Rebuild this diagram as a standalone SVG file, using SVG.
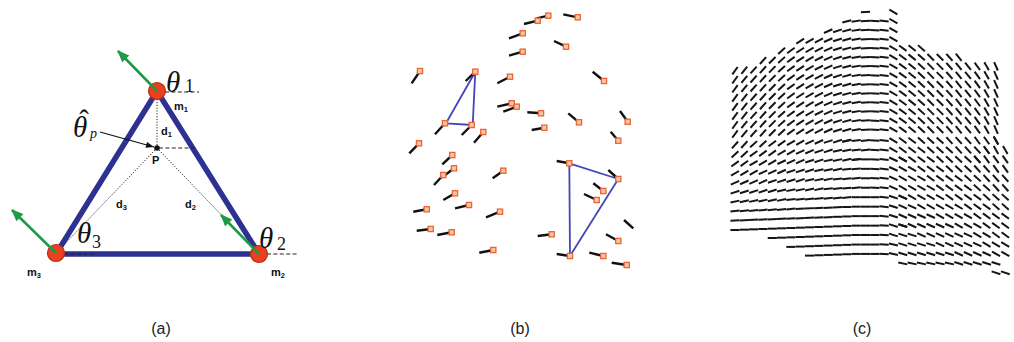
<svg xmlns="http://www.w3.org/2000/svg" width="1014" height="342" viewBox="0 0 1014 342">
<style>
.lbl{font-family:"Liberation Sans",Arial,sans-serif;font-weight:bold;font-size:11px;fill:#111}
.th{font-family:"Liberation Serif","Times New Roman",serif;font-style:italic;font-size:29px;fill:#111}
.sub{font-family:"Liberation Serif","Times New Roman",serif;font-style:normal;font-size:18px;fill:#111}
.cap{font-family:"Liberation Sans",Arial,sans-serif;font-size:16px;fill:#222;text-anchor:middle}
.edge{fill:none;stroke:#2d3192;stroke-width:5.5;stroke-linejoin:round}
.dot{fill:none;stroke:#222;stroke-width:1;stroke-dasharray:1.2 1.6}
.dash{fill:none;stroke:#222;stroke-width:1.2;stroke-dasharray:4 2.4}
.mass{fill:#e8411f;stroke:#b5301a;stroke-width:1.2}
.vel{fill:none;stroke:#1e9a46;stroke-width:2.6;marker-end:url(#ga)}
.pb path{fill:none;stroke:#111;stroke-width:2.4;marker-start:url(#sq)}
.pb path.ns{marker-start:none}
.tri{fill:none;stroke:#4347b8;stroke-width:1.8;stroke-linejoin:round}
marker{overflow:visible}
.d{fill:none;stroke:#151515;stroke-width:2}
#pc path{fill:none;stroke:none}
.n54{marker:url(#n54)}.n51{marker:url(#n51)}.n48{marker:url(#n48)}.n45{marker:url(#n45)}
.n42{marker:url(#n42)}.n36{marker:url(#n36)}.n33{marker:url(#n33)}.n30{marker:url(#n30)}
.n27{marker:url(#n27)}.n24{marker:url(#n24)}.n18{marker:url(#n18)}.n15{marker:url(#n15)}
.n12{marker:url(#n12)}.n9{marker:url(#n9)}.n6{marker:url(#n6)}.n3{marker:url(#n3)}
.z0{marker:url(#z0)}.p3{marker:url(#p3)}.p6{marker:url(#p6)}.p12{marker:url(#p12)}
.p18{marker:url(#p18)}.p24{marker:url(#p24)}.p30{marker:url(#p30)}.p36{marker:url(#p36)}
.p39{marker:url(#p39)}.p42{marker:url(#p42)}.p45{marker:url(#p45)}.p48{marker:url(#p48)}
.p51{marker:url(#p51)}.p54{marker:url(#p54)}.p60{marker:url(#p60)}.p66{marker:url(#p66)}
</style>
<defs>
<marker id="ga" markerUnits="userSpaceOnUse" viewBox="0 0 12 10" markerWidth="12" markerHeight="10" refX="11" refY="5" orient="auto"><path d="M0 0L12 5 0 10z" fill="#1e9a46"/></marker>
<marker id="ka" markerUnits="userSpaceOnUse" viewBox="0 0 8 6" markerWidth="8" markerHeight="6" refX="8" refY="3" orient="auto"><path d="M0 0L8 3 0 6z" fill="#111"/></marker>
<marker id="sq" markerUnits="userSpaceOnUse"><rect x="-2.6" y="-2.6" width="5.2" height="5.2" fill="#fbc6a4" stroke="#ec6335" stroke-width="1.3"/></marker>
<marker id="n54" orient="-54"><path class="d" d="M-4.6 0H4.6"/></marker>
<marker id="n51" orient="-51"><path class="d" d="M-4.6 0H4.6"/></marker>
<marker id="n48" orient="-48"><path class="d" d="M-4.6 0H4.6"/></marker>
<marker id="n45" orient="-45"><path class="d" d="M-4.6 0H4.6"/></marker>
<marker id="n42" orient="-42"><path class="d" d="M-4.6 0H4.6"/></marker>
<marker id="n36" orient="-36"><path class="d" d="M-4.6 0H4.6"/></marker>
<marker id="n33" orient="-33"><path class="d" d="M-4.6 0H4.6"/></marker>
<marker id="n30" orient="-30"><path class="d" d="M-4.6 0H4.6"/></marker>
<marker id="n27" orient="-27"><path class="d" d="M-4.6 0H4.6"/></marker>
<marker id="n24" orient="-24"><path class="d" d="M-4.6 0H4.6"/></marker>
<marker id="n18" orient="-18"><path class="d" d="M-4.6 0H4.6"/></marker>
<marker id="n15" orient="-15"><path class="d" d="M-4.6 0H4.6"/></marker>
<marker id="n12" orient="-12"><path class="d" d="M-4.6 0H4.6"/></marker>
<marker id="n9" orient="-9"><path class="d" d="M-4.6 0H4.6"/></marker>
<marker id="n6" orient="-6"><path class="d" d="M-4.6 0H4.6"/></marker>
<marker id="n3" orient="-3"><path class="d" d="M-4.6 0H4.6"/></marker>
<marker id="z0" orient="0"><path class="d" d="M-4.6 0H4.6"/></marker>
<marker id="p3" orient="3"><path class="d" d="M-4.6 0H4.6"/></marker>
<marker id="p6" orient="6"><path class="d" d="M-4.6 0H4.6"/></marker>
<marker id="p12" orient="12"><path class="d" d="M-4.6 0H4.6"/></marker>
<marker id="p18" orient="18"><path class="d" d="M-4.6 0H4.6"/></marker>
<marker id="p24" orient="24"><path class="d" d="M-4.6 0H4.6"/></marker>
<marker id="p30" orient="30"><path class="d" d="M-4.6 0H4.6"/></marker>
<marker id="p36" orient="36"><path class="d" d="M-4.6 0H4.6"/></marker>
<marker id="p39" orient="39"><path class="d" d="M-4.6 0H4.6"/></marker>
<marker id="p42" orient="42"><path class="d" d="M-4.6 0H4.6"/></marker>
<marker id="p45" orient="45"><path class="d" d="M-4.6 0H4.6"/></marker>
<marker id="p48" orient="48"><path class="d" d="M-4.6 0H4.6"/></marker>
<marker id="p51" orient="51"><path class="d" d="M-4.6 0H4.6"/></marker>
<marker id="p54" orient="54"><path class="d" d="M-4.6 0H4.6"/></marker>
<marker id="p60" orient="60"><path class="d" d="M-4.6 0H4.6"/></marker>
<marker id="p66" orient="66"><path class="d" d="M-4.6 0H4.6"/></marker>
</defs>
<rect width="1014" height="342" fill="#fff"/>

<!-- Panel (a) -->
<g id="panel-a">
<g id="connectors">
<polygon class="edge" points="157,91 259,254 56,254"/>
<path class="dot" d="M157 148V92"/>
<path class="dot" d="M157 148L259 254"/>
<path class="dot" d="M157 148L56 253"/>
<path class="dash" d="M165 92H199"/>
<path class="dash" d="M159 148H197"/>
<path class="dash" d="M64 254H96"/>
<path class="dash" d="M267 254H298"/>
<path d="M100 132L154 147" fill="none" stroke="#111" stroke-width="1.2" marker-end="url(#ka)"/>
</g>
<g id="m1">
<circle class="mass" cx="157" cy="91" r="8.5"/>
<path class="vel" d="M157 91L118 51"/>
<text class="th" x="166" y="92">θ</text><text class="sub" x="185" y="92">1</text>
<text class="lbl" x="174" y="110">m<tspan font-size="7.5" dy="1.5">1</tspan></text>
</g>
<g id="m2">
<circle class="mass" cx="259" cy="254" r="8.5"/>
<path class="vel" d="M259 254L221 215"/>
<text class="th" x="259" y="248">θ</text><text class="sub" x="277" y="250">2</text>
<text class="lbl" x="271" y="276">m<tspan font-size="7.5" dy="1.5">2</tspan></text>
</g>
<g id="m3">
<circle class="mass" cx="56" cy="253" r="8.5"/>
<path class="vel" d="M56 253L12 210"/>
<text class="th" x="77" y="243">θ</text><text class="sub" x="92" y="248">3</text>
<text class="lbl" x="27" y="276">m<tspan font-size="7.5" dy="1.5">3</tspan></text>
</g>
<g id="P">
<circle cx="157" cy="148" r="2.8" fill="#111"/>
<text class="lbl" x="152" y="164" font-size="13">P</text>
<text class="lbl" x="161" y="135">d<tspan font-size="7.5" dy="1.5">1</tspan></text>
<text class="lbl" x="185" y="208">d<tspan font-size="7.5" dy="1.5">2</tspan></text>
<text class="lbl" x="116" y="208">d<tspan font-size="7.5" dy="1.5">3</tspan></text>
<text class="th" x="73" y="137" font-size="18">θ<tspan font-style="normal" dx="-8" dy="-7">ˆ</tspan><tspan font-size="14" dx="1" dy="8">p</tspan></text>
</g>
<text class="cap" x="161" y="334">(a)</text>
</g>

<!-- Panel (b) -->
<g id="panel-b">
<polygon class="tri" points="475.3,71.7 446,123.3 472.7,125"/>
<polygon class="tri" points="569.3,163.3 618.3,179 570,256"/>
<g class="pb">
<path d="M548.3 15.7L536.7 18.3"/>
<path d="M537.7 20.7L524 24"/>
<path d="M577.7 17.3L563.3 14.3"/>
<path d="M522.7 33.3L509 38.3"/>
<path d="M566 46.7L554 41"/>
<path d="M522.7 51.7L509 55.7"/>
<path d="M420 71L411.7 83.3"/>
<path d="M475.3 71.7L465.7 81"/>
<path d="M510 76.7L497.3 83.3"/>
<path d="M604 81L592.7 71.7"/>
<path d="M511.7 103.3L497.3 106.7"/>
<path d="M516.7 106.7L503.3 111.7"/>
<path d="M541 113.3L527.3 112.3"/>
<path d="M579 122.3L568.3 113.3"/>
<path d="M627.7 121.7L620 111"/>
<path d="M544.3 127.7L531.7 130"/>
<path d="M445 123.3L435 134.3"/>
<path d="M471.7 125L461.7 135"/>
<path d="M483.3 132L474 142.7"/>
<path d="M618.3 140.7L610.7 131.7"/>
<path d="M419 143.3L409.3 153.3"/>
<path d="M452.3 155L442.3 164.3"/>
<path d="M454 168.3L442 177.5"/>
<path d="M443.3 175L434 185"/>
<path d="M503.3 170.7L492.7 178.3"/>
<path d="M569.3 163.3L556.7 161"/>
<path d="M618.3 179L608.3 170"/>
<path d="M603.3 191L593.3 183.3"/>
<path d="M596.7 200L584 194"/>
<path d="M455 193.3L443.3 200"/>
<path d="M469 205L455 208.3"/>
<path d="M426.7 209.3L413.3 211.7"/>
<path d="M500 211.7L486 217.3"/>
<path class="ns" d="M633.3 228.3L624 220"/>
<path d="M430.7 229L416.7 230.7"/>
<path d="M451.7 232.3L437.3 235"/>
<path d="M551.7 234.3L537.7 236"/>
<path d="M618.3 241L606 234.3"/>
<path d="M493.3 250L479.3 252.7"/>
<path d="M570 256L556.7 254"/>
<path d="M603.3 256L589.3 252.7"/>
<path d="M626.7 265L611.7 262.7"/>
</g>
<text class="cap" x="520" y="334">(b)</text>
</g>

<!-- Panel (c) -->
<g id="pc">
<path class="n54" d="M735 70.7v9.05 9.05 9.05 9.05 9.05 9.05 9.05"/>
<path class="n51" d="M744.3 70.3v9.05 9.05 9.05 9.05 9.05 9.05 9.05"/>
<path class="n48" d="M753.6 70v9.05 9.05 9.05 9.05 9.05 9.05 9.05"/>
<path class="n48" d="M763 60.6v9.05 9.05 9.05 9.05 9.05 9.05 9.05 9.05"/>
<path class="n45" d="M772.3 60.3v9.05 9.05 9.05 9.05 9.05 9.05 9.05 9.05"/>
<path class="n42" d="M781.6 50.9v9.05 9.05 9.05 9.05 9.05 9.05 9.05 9.05 9.05"/>
<path class="n36" d="M790.9 50.5v9.05 9.05 9.05 9.05 9.05 9.05 9.05 9.05 9.05"/>
<path class="n33" d="M800.2 41.2v9.05 9.05 9.05 9.05 9.05 9.05 9.05 9.05 9.05 9.05"/>
<path class="n30" d="M809.6 40.9v9.05 9.05 9.05 9.05 9.05 9.05 9.05 9.05 9.05 9.05"/>
<path class="n27" d="M818.9 40.5v9.05 9.05 9.05 9.05 9.05 9.05 9.05 9.05 9.05 9.05"/>
<path class="n24" d="M828.2 31.1v9.05 9.05 9.05 9.05 9.05 9.05 9.05 9.05 9.05 9.05 9.05"/>
<path class="n18" d="M837.5 30.8v9.05 9.05 9.05 9.05 9.05 9.05 9.05 9.05 9.05 9.05 9.05"/>
<path class="n15" d="M846.8 21.4v9.05 9.05 9.05 9.05 9.05 9.05 9.05 9.05 9.05 9.05 9.05 9.05"/>
<path class="n9" d="M856.2 21.1v9.05 9.05 9.05 9.05 9.05 9.05 9.05 9.05 9.05 9.05 9.05 9.05"/>
<path class="n3" d="M865.5 12v9.05 9.05 9.05 9.05 9.05 9.05 9.05 9.05 9.05 9.05 9.05 9.05 9.05"/>
<path class="p3" d="M874.8 21.1v9.05 9.05 9.05 9.05 9.05 9.05 9.05 9.05 9.05 9.05 9.05 9.05 10.85 9.45 9.45 9.45 9.45 9.45"/>
<path class="p6" d="M884.1 21.1v9.05 9.05 9.05 9.05 9.05 9.05 9.05 9.05 9.05 9.05 9.05 9.05 10.85 9.45 9.45 9.45 9.45 9.45 9.45 9.45 9.45"/>
<path class="p30" d="M893.4 12v9.05 9.05 9.05 9.05 9.05 9.05 9.05 9.05 9.05 9.05 9.05 9.05 9.05 10.85 9.45"/>
<path class="p36" d="M902.8 48.2v9.05 9.05 9.05 9.05 9.05 9.05 9.05 9.05 9.05"/>
<path class="p39" d="M912.1 48.2v9.05 9.05 9.05 9.05 9.05 9.05 9.05 9.05 9.05"/>
<path class="p42" d="M921.4 48.2v9.05 9.05 9.05 9.05 9.05 9.05 9.05 9.05 9.05"/>
<path class="p45" d="M930.7 57.3v9.05 9.05 9.05 9.05 9.05 9.05 9.05 9.05"/>
<path class="p45" d="M940 57.3v9.05 9.05 9.05 9.05 9.05 9.05 9.05 9.05"/>
<path class="p48" d="M949.4 57.3v9.05 9.05 9.05 9.05 9.05 9.05 9.05 9.05"/>
<path class="p51" d="M958.7 57.3v9.05 9.05 9.05 9.05 9.05 9.05 9.05 9.05"/>
<path class="p51" d="M968 66.3v9.05 9.05 9.05 9.05 9.05 9.05 9.05"/>
<path class="p54" d="M977.3 66.3v9.05 9.05 9.05 9.05 9.05 9.05 9.05"/>
<path class="p60" d="M986.6 66.3v9.05 9.05 9.05 9.05 9.05 9.05 9.05"/>
<path class="p66" d="M996 66.3v9.05 9.05 9.05 9.05 9.05 9.05 9.05"/>
<path class="z0" d="M865.5 159.4v9.45 9.45 9.45"/>
<path class="p3" d="M884.1 225.6v9.45 9.45 9.45"/>
<path class="p24" d="M893.4 159.4v9.45 9.45 9.45"/>
<path class="p18" d="M893.4 197.2v9.45 9.45 9.45 9.45"/>
<path class="p12" d="M893.4 244.5v9.45"/>
<path class="n48" d="M735 144.9l9.32-.335"/>
<path class="n42" d="M753.6 144.2l9.32-.335"/>
<path class="n36" d="M772.3 143.5l9.32-.335"/>
<path class="n30" d="M790.9 142.9l9.32-.335"/>
<path class="n24" d="M809.6 142.2l9.32-.335"/>
<path class="n18" d="M828.2 141.5l9.32-.335"/>
<path class="n12" d="M846.8 140.8h.01"/>
<path class="n6" d="M856.2 140.5h9.32"/>
<path class="n42" d="M735 154.4l9.32-.335"/>
<path class="n36" d="M753.6 153.7l9.32-.335 9.32-.335"/>
<path class="n30" d="M781.6 152.7l9.32-.335"/>
<path class="n24" d="M800.2 152l9.32-.335"/>
<path class="n18" d="M818.9 151.3l9.32-.335"/>
<path class="n12" d="M837.5 150.7l9.32-.335"/>
<path class="n6" d="M856.2 150h9.32"/>
<path class="n36" d="M735 163.8l9.32-.335"/>
<path class="n30" d="M753.6 163.1l9.32-.335 9.32-.335"/>
<path class="n24" d="M781.6 162.1l9.32-.335 9.32-.335"/>
<path class="n18" d="M809.6 161.1l9.32-.335"/>
<path class="n12" d="M828.2 160.4l9.32-.335 9.32-.335"/>
<path class="n6" d="M856.2 159.4h.01"/>
<path class="n30" d="M735 173.3l9.32-.335 9.32-.335"/>
<path class="n24" d="M763 172.3l9.32-.335 9.32-.335"/>
<path class="n18" d="M790.9 171.3l9.32-.335 9.32-.335"/>
<path class="n12" d="M818.9 170.2l9.32-.335 9.32-.335"/>
<path class="n6" d="M846.8 169.2l9.32-.335"/>
<path class="n24" d="M735 182.7l9.32-.335 9.32-.335 9.32-.335"/>
<path class="n18" d="M772.3 181.3l9.32-.335 9.32-.335 9.32-.335"/>
<path class="n12" d="M809.6 180l9.32-.335 9.32-.335"/>
<path class="n6" d="M837.5 179l9.32-.335 9.32-.335"/>
<path class="n18" d="M735 192.2l9.32-.335 9.32-.335 9.32-.335 9.32-.335"/>
<path class="n12" d="M781.6 190.5l9.32-.335 9.32-.335 9.32-.335 9.32-.335"/>
<path class="n6" d="M828.2 188.8l9.32-.335 9.32-.335 9.32-.335"/>
<path class="n12" d="M735 201.6l9.32-.335 9.32-.335 9.32-.335 9.32-.335 9.32-.335"/>
<path class="n6" d="M790.9 199.6l9.32-.335 9.32-.335 9.32-.335 9.32-.335 9.32-.335 9.32-.335"/>
<path class="z0" d="M856.2 197.2h9.32 9.32"/>
<path class="n6" d="M735 211.1l9.32-.335 9.32-.335 9.32-.335 9.32-.335 9.32-.335 9.32-.335"/>
<path class="n3" d="M800.2 208.7l9.32-.335 9.32-.335 9.32-.335 9.32-.335"/>
<path class="z0" d="M846.8 207l9.32-.335h9.32 9.32"/>
<path class="n3" d="M735 220.5l9.32-.335 9.32-.335 9.32-.335 9.32-.335 9.32-.335 9.32-.335 9.32-.335 9.32-.335 9.32-.335 9.32-.335"/>
<path class="z0" d="M837.5 216.8l9.32-.335 9.32-.335h9.32 9.32"/>
<path class="z0" d="M735 230l9.32-.335 9.32-.335 9.32-.335 9.32-.335 9.32-.335 9.32-.335 9.32-.335 9.32-.335 9.32-.335 9.32-.335 9.32-.335 9.32-.335 9.32-.335h9.32 9.32"/>
<path class="z0" d="M772.3 238l9.32-.335 9.32-.335 9.32-.335 9.32-.335 9.32-.335 9.32-.335 9.32-.335 9.32-.335 9.32-.335h9.32 9.32"/>
<path class="z0" d="M790.9 246.9l9.32-.335 9.32-.335 9.32-.335 9.32-.335 9.32-.335 9.32-.335 9.32-.335h9.32 9.32"/>
<path class="z0" d="M809.6 255.6l9.32-.335 9.32-.335 9.32-.335 9.32-.335 9.32-.335h9.32 9.32"/>
<path class="p36" d="M902.8 140.5h9.32"/>
<path class="p42" d="M921.4 140.5h9.32 9.32"/>
<path class="p48" d="M949.4 140.5h9.32 9.32"/>
<path class="p54" d="M977.3 140.5h9.32"/>
<path class="p60" d="M996 140.5h.01"/>
<path class="p36" d="M902.8 150h9.32 9.32"/>
<path class="p42" d="M930.7 150h9.32 9.32"/>
<path class="p48" d="M958.7 150h9.32 9.32"/>
<path class="p54" d="M986.6 150h.01"/>
<path class="p60" d="M996 150h9.32"/>
<path class="p30" d="M902.8 159.4h.01"/>
<path class="p36" d="M912.1 159.4h9.32 9.32"/>
<path class="p42" d="M940 159.4h9.32 9.32 9.32"/>
<path class="p48" d="M977.3 159.4h.01"/>
<path class="p54" d="M986.6 159.4h9.32 9.32"/>
<path class="p30" d="M902.8 168.9h9.32"/>
<path class="p36" d="M921.4 168.9h9.32 9.32"/>
<path class="p42" d="M949.4 168.9h9.32 9.32"/>
<path class="p48" d="M977.3 168.9h9.32"/>
<path class="p54" d="M996 168.9h9.32"/>
<path class="p30" d="M902.8 178.3h9.32 9.32"/>
<path class="p36" d="M930.7 178.3h9.32 9.32 9.32"/>
<path class="p42" d="M968 178.3h9.32"/>
<path class="p48" d="M986.6 178.3h9.32 9.32"/>
<path class="p30" d="M902.8 187.8h9.32 9.32 9.32"/>
<path class="p36" d="M940 187.8h9.32 9.32 9.32"/>
<path class="p42" d="M977.3 187.8h9.32"/>
<path class="p48" d="M996 187.8h9.32"/>
<path class="p24" d="M902.8 197.2h.01"/>
<path class="p30" d="M912.1 197.2h9.32 9.32 9.32"/>
<path class="p36" d="M949.4 197.2h9.32 9.32 9.32"/>
<path class="p42" d="M986.6 197.2h9.32 9.32"/>
<path class="p24" d="M902.8 206.7h9.32"/>
<path class="p30" d="M921.4 206.7h9.32 9.32 9.32 9.32"/>
<path class="p36" d="M968 206.7h9.32 9.32"/>
<path class="p42" d="M996 206.7h9.32"/>
<path class="p24" d="M902.8 216.1h9.32 9.32 9.32"/>
<path class="p30" d="M940 216.1h9.32 9.32 9.32"/>
<path class="p36" d="M977.3 216.1h9.32 9.32 9.32"/>
<path class="p18" d="M902.8 225.6h.01"/>
<path class="p24" d="M912.1 225.6h9.32 9.32 9.32 9.32"/>
<path class="p30" d="M958.7 225.6h9.32 9.32"/>
<path class="p36" d="M986.6 225.6h9.32 9.32"/>
<path class="p18" d="M902.8 235h9.32"/>
<path class="p24" d="M921.4 235h9.32 9.32 9.32 9.32 9.32"/>
<path class="p30" d="M977.3 235h9.32"/>
<path class="p36" d="M996 235h9.32"/>
<path class="p18" d="M902.8 244.5h9.32 9.32 9.32"/>
<path class="p24" d="M940 244.5h9.32 9.32 9.32 9.32"/>
<path class="p30" d="M986.6 244.5h9.32 9.32"/>
<path class="p18" d="M902.8 253.9h9.32 9.32 9.32 9.32 9.32"/>
<path class="p24" d="M958.7 253.9h9.32 9.32 9.32"/>
<path class="p30" d="M996 253.9h9.32"/>
<path class="p12" d="M902.8 263.4h9.32 9.32 9.32 9.32 9.32"/>
<path class="p18" d="M958.7 263.4h9.32 9.32 9.32 9.32"/>
<path class="p18" d="M996 272.8h9.32"/>
</g>
<text class="cap" x="862" y="334">(c)</text>
</svg>
